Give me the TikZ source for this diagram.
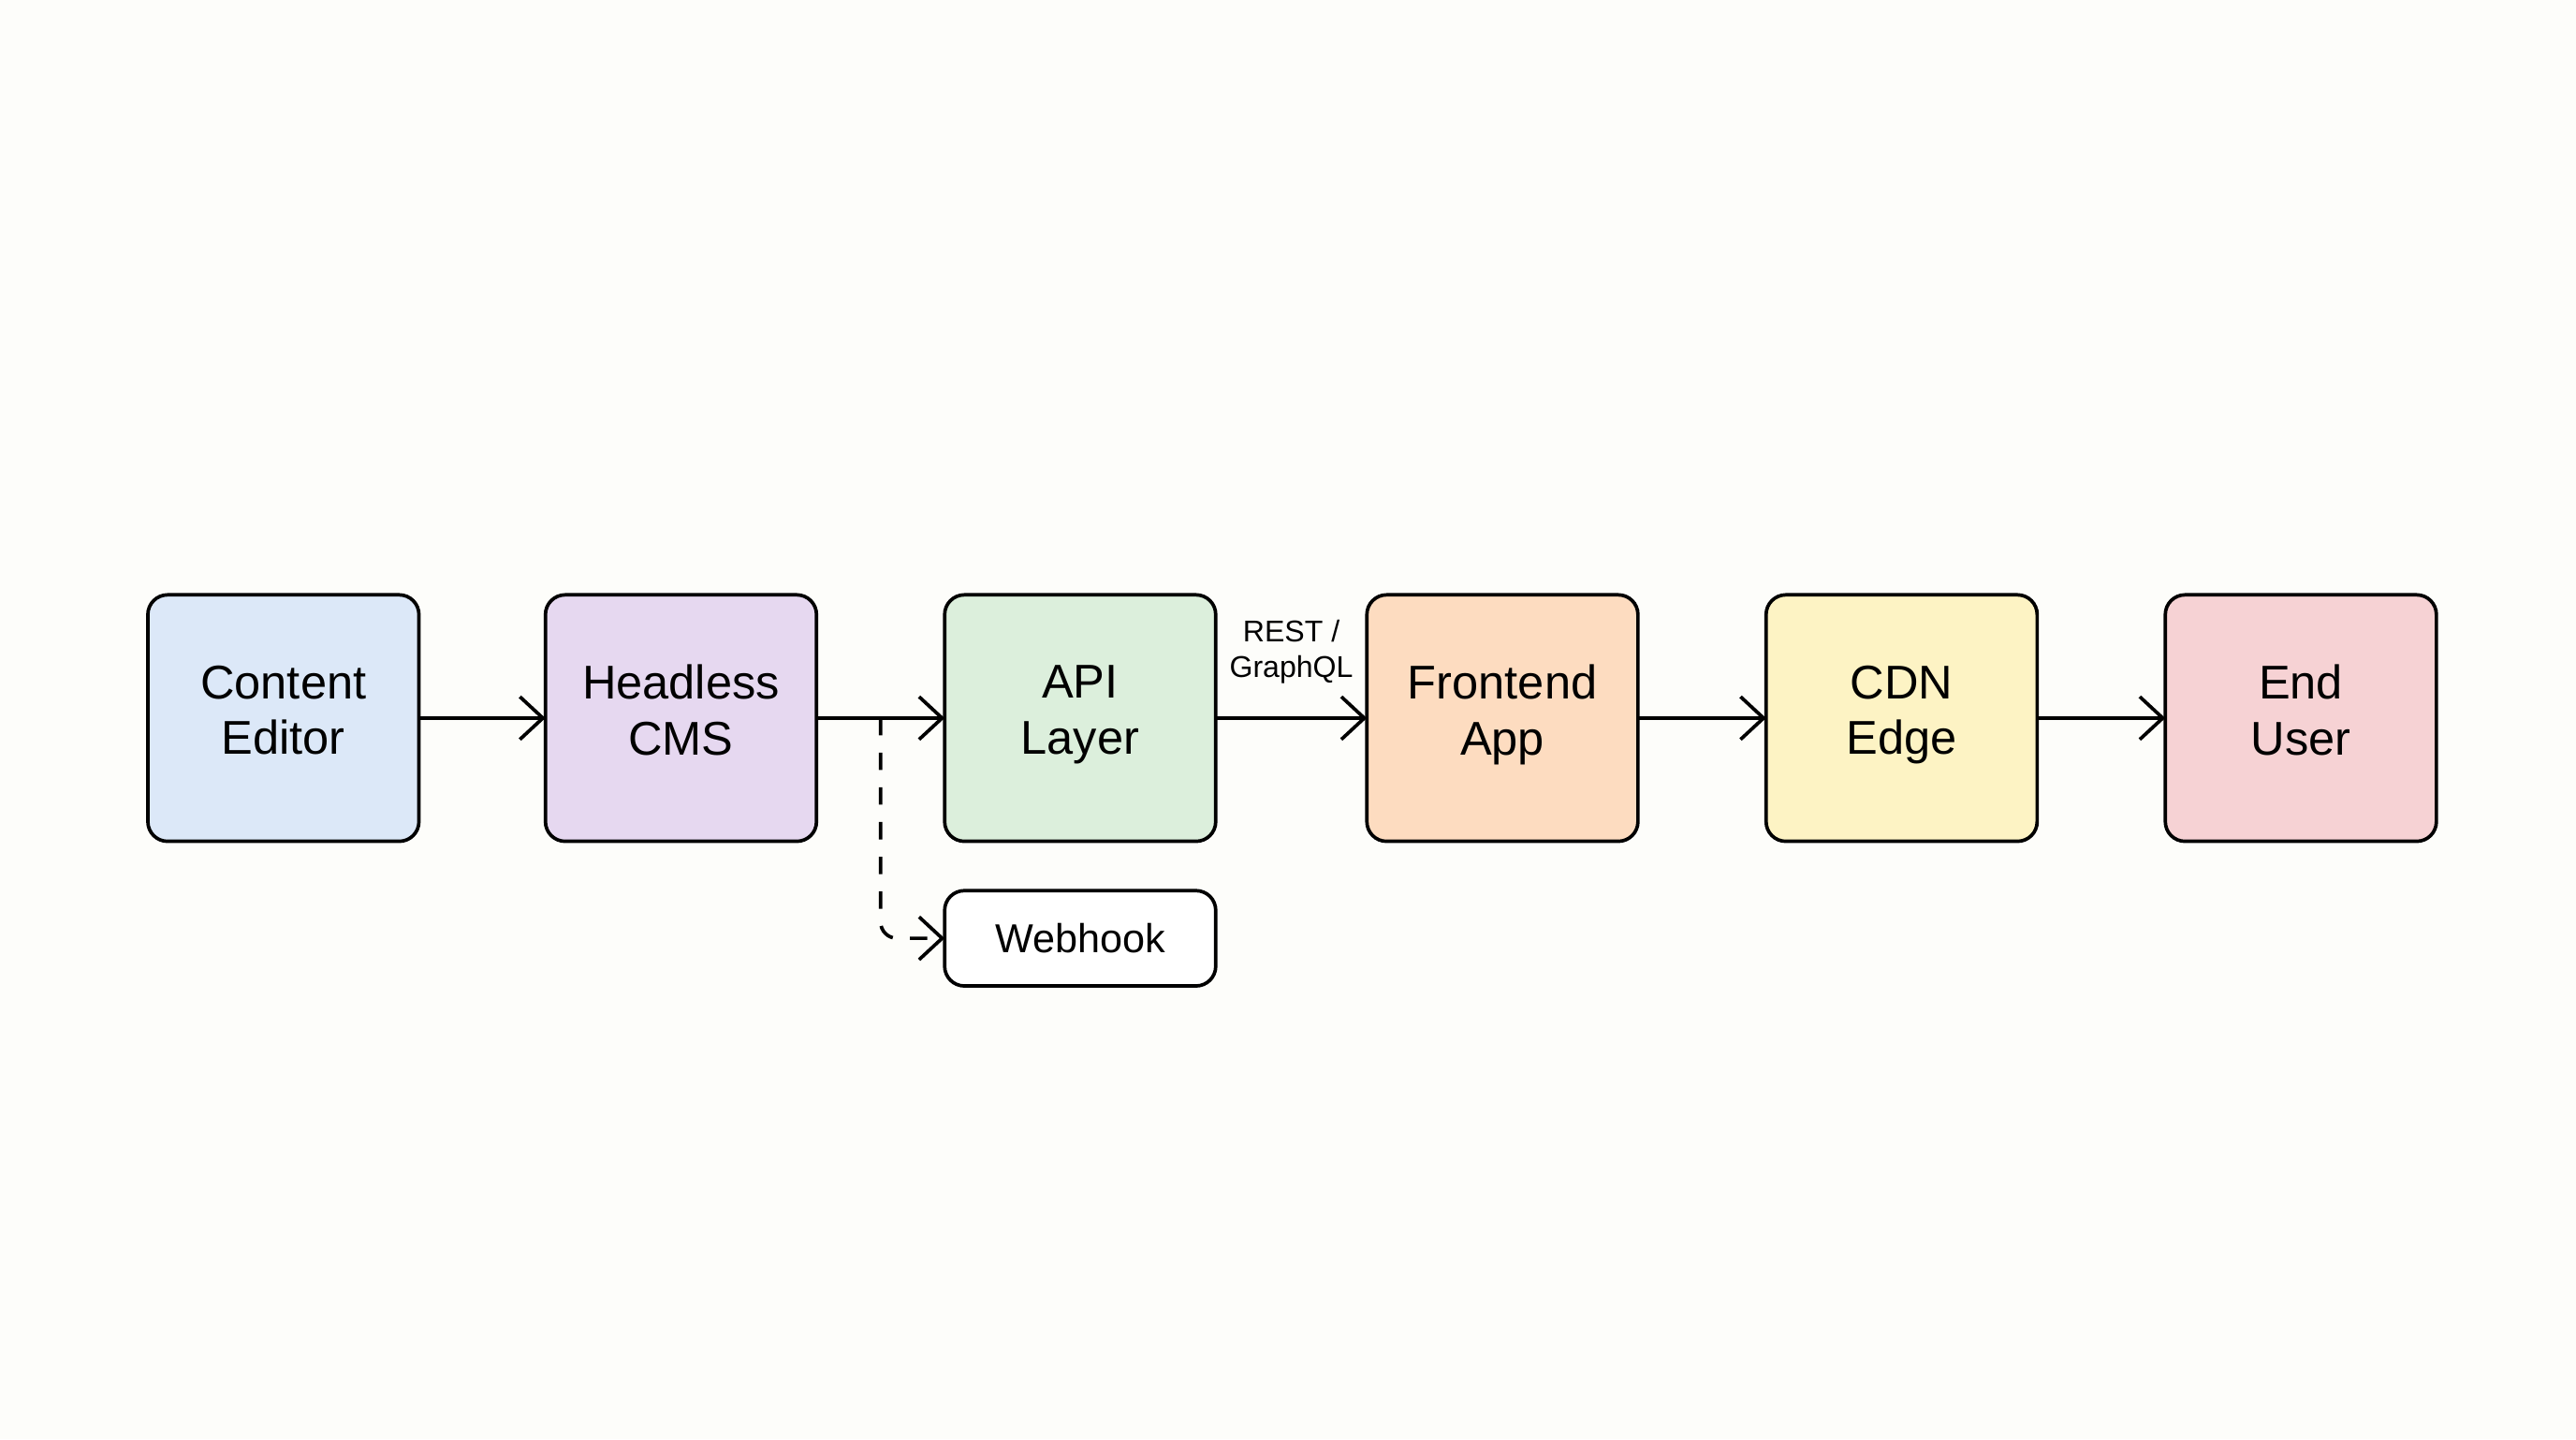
\documentclass[tikz,border=0pt]{standalone}
\usepackage{fontspec}
\setmainfont{Liberation Sans}
\usetikzlibrary{positioning,calc,arrows.meta}
\definecolor{bgcol}{HTML}{FDFDFA}
\definecolor{editorcol}{HTML}{DCE8F8}
\definecolor{cmscol}{HTML}{E6D8F0}
\definecolor{apicol}{HTML}{DCEFDC}
\definecolor{frontcol}{HTML}{FDDCC0}
\definecolor{cdncol}{HTML}{FDF3C4}
\definecolor{usercol}{HTML}{F6D2D4}

\begin{document}
\begin{tikzpicture}
    [
    stage/.style={rectangle,draw,line width=0.6pt,rounded corners=1.2mm,minimum width=16.5mm,minimum height=15mm,align=center,font=\fontsize{8.2}{9.6}\selectfont,inner sep=0pt,outer sep=0pt},
    flow/.style={-{Straight Barb[length=1.4mm,width=2.6mm]},line width=0.6pt},
    hook/.style={rectangle,draw,line width=0.6pt,rounded corners=1.2mm,minimum width=16.5mm,minimum height=5.8mm,fill=white,font=\fontsize{7}{8}\selectfont,inner sep=0pt,outer sep=0pt}
    ]
    \fill[bgcol] (0,0) rectangle (15.68,-8.76);
    \useasboundingbox (0,0) rectangle (15.68,-8.76);
    \node[stage,fill=editorcol] (editor) at (1.725,-4.37) {Content\\Editor\strut};
    \node[stage,fill=cmscol,right=7.7mm of editor] (cms) {Headless\\CMS\strut};
    \node[stage,fill=apicol,right=7.8mm of cms] (api) {API\\Layer\strut};
    \node[stage,fill=frontcol,right=9.2mm of api] (front) {Frontend\\App\strut};
    \node[stage,fill=cdncol,right=7.8mm of front] (cdn) {CDN\\Edge\strut};
    \node[stage,fill=usercol,right=7.8mm of cdn] (user) {End\\User\strut};
    \node[hook,below=3mm of api] (webhook) {Webhook};
    \coordinate (split) at ($(cms.east)!0.5!(api.west)$);
    \path[flow]
        (editor) edge (cms)
        (cms) edge (api)
        (api) edge node[above=0.8mm,align=center,font=\fontsize{5.2}{6.2}\selectfont] {REST /\\GraphQL} (front)
        (front) edge (cdn)
        (cdn) edge (user)
    ;
    \draw[flow,dashed,rounded corners=1mm] (split) |- (webhook.west);
\end{tikzpicture}
\end{document}
